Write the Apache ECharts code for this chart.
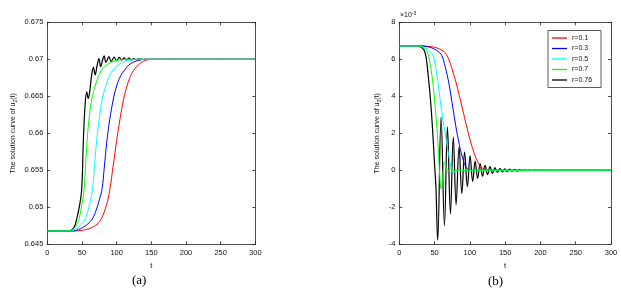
<!DOCTYPE html>
<html>
<head>
<meta charset="utf-8">
<script src="https://cdn.jsdelivr.net/npm/echarts@6/dist/echarts.min.js"></script>
<style>
html,body{margin:0;padding:0;background:#fff;}
#c{width:621px;height:295px;}
</style>
</head>
<body>
<div id="c"></div>
<script>
// ---------- data ----------
var seriesNames = ['r=0.1', 'r=0.3', 'r=0.5', 'r=0.7', 'r=0.76'];
var xTicks = [0, 50, 100, 150, 200, 250, 300];

// panel (a): u2(t)
var redT_a = [0, 40, 50, 60, 70, 77, 85, 90, 95, 100, 105, 110, 115, 120, 126, 135, 143, 155, 300];
var redV_a = [0.6468, 0.6468, 0.6469, 0.6471, 0.6476, 0.6483, 0.6502, 0.6523, 0.6556, 0.6590, 0.6620, 0.6646, 0.6664, 0.6677, 0.6687, 0.6695, 0.6699, 0.6700, 0.6700];
var blueT_a = [0, 35, 45, 55, 64, 70, 75, 79, 82, 86, 90, 95, 100, 106, 112, 120, 134, 145, 300];
var blueV_a = [0.6468, 0.6468, 0.6470, 0.6475, 0.6483, 0.6495, 0.6510, 0.6525, 0.6552, 0.6590, 0.6618, 0.6645, 0.6664, 0.6678, 0.6686, 0.6694, 0.6699, 0.6700, 0.6700];
var cyanT_a = [0, 30, 40, 48, 54, 60, 65, 68, 71, 75, 79, 85, 90, 95, 105, 119, 135, 300];
var cyanV_a = [0.6468, 0.6468, 0.6470, 0.6476, 0.6483, 0.6500, 0.6523, 0.6555, 0.6588, 0.6620, 0.6645, 0.6666, 0.6678, 0.6686, 0.6694, 0.6699, 0.6700, 0.6700];
var greenT_a = [0, 30, 38, 43, 46, 50, 53, 55, 57.5, 60, 64, 70, 78, 85, 95, 102, 115, 300];
var greenV_a = [0.6468, 0.6468, 0.6471, 0.6478, 0.6485, 0.6505, 0.6523, 0.6555, 0.6590, 0.6618, 0.6645, 0.6667, 0.6685, 0.6692, 0.6697, 0.6699, 0.6700, 0.6700];
var blackT_a = [0, 30, 38, 42, 46, 49.5, 52, 54.5, 57, 59, 61, 64, 66.5, 69, 71.5, 74.5, 77, 80, 82, 84.5, 89, 92, 96.5, 99.5, 104, 107, 111, 114, 118, 121, 125, 128, 132, 136, 300];
var blackV_a = [0.6468, 0.6468, 0.6472, 0.6483, 0.6500, 0.6523, 0.6590, 0.6638, 0.6656, 0.6647, 0.6655, 0.6679, 0.6689, 0.6679, 0.6690, 0.6701, 0.6690, 0.6700, 0.67045, 0.6696, 0.67035, 0.6697, 0.6703, 0.6698, 0.67025, 0.6699, 0.6702, 0.6699, 0.67015, 0.6699, 0.6701, 0.66995, 0.67005, 0.6700, 0.6700];

// panel (b): u3(t), in units of 1e-3
var redT_b = [0, 30, 40, 50, 60, 65, 70, 75, 80, 85, 90, 95, 100, 105, 110, 115, 120, 126, 300];
var redV_b = [6.72, 6.72, 6.70, 6.65, 6.50, 6.35, 6.0, 5.45, 4.8, 4.05, 3.25, 2.45, 1.7, 1.05, 0.55, 0.22, 0.06, 0, 0];
var blueT_b = [0, 30, 40, 50, 55, 60, 65, 70, 75, 80, 85, 90, 95, 100, 106, 300];
var blueV_b = [6.72, 6.72, 6.68, 6.55, 6.42, 6.22, 5.6, 4.75, 3.6, 2.4, 1.4, 0.62, 0.15, 0.02, 0, 0];
var cyanT_b = [0, 25, 35, 40, 45, 48, 50, 53, 55, 58, 62, 65, 68, 71, 74, 76, 79, 84, 300];
var cyanV_b = [6.72, 6.72, 6.65, 6.55, 6.35, 6.2, 5.9, 5.2, 4.7, 3.75, 2.7, 2.0, 1.3, 0.6, 0.05, -0.12, -0.08, 0, 0];
var greenT_b = [0, 25, 30, 35, 40, 43, 46, 49, 52, 54.5, 56.5, 58, 59.2, 60.5, 62, 63.8, 66, 68, 70, 72, 75, 300];
var greenV_b = [6.72, 6.72, 6.70, 6.6, 6.35, 5.9, 5.2, 4.2, 2.9, 1.6, 0.3, -0.7, -1.0, -0.8, -0.1, 0.45, 0.2, -0.1, -0.05, 0.08, 0, 0];
var blackT_b = [0, 25, 30, 35, 38, 41, 44, 47, 50, 52, 53.3, 54.4, 59.2, 64, 68.2, 72.5, 76.5, 80.5, 84.7, 88.6, 92.5, 96.5, 100.3, 104, 107.5, 111, 114.5, 118, 121.5, 125, 128.5, 132, 135.5, 139, 142.5, 146, 149.5, 153, 156.5, 160, 163.5, 167, 170.5, 174, 177.5, 181, 184.5, 188, 191.5, 195, 198.5, 202, 206, 300];
var blackV_b = [6.72, 6.72, 6.68, 6.5, 6.1, 5.1, 3.9, 2.3, 0.3, -1.0, -2.8, -3.78, 2.88, -3.0, 2.35, -2.35, 1.8, -1.85, 1.25, -1.25, 0.99, -0.88, 0.78, -0.6, 0.5, -0.44, 0.36, -0.32, 0.27, -0.23, 0.2, -0.17, 0.15, -0.12, 0.11, -0.09, 0.08, -0.07, 0.06, -0.05, 0.045, -0.04, 0.035, -0.03, 0.025, -0.02, 0.015, -0.012, 0.01, -0.008, 0.006, -0.004, 0, 0];

var colors = ['#ff0000', '#0000ff', '#00ffff', '#00ff00', '#000000'];

function pairs(t, v) { return t.map(function (x, i) { return [x, v[i]]; }); }

var dataA = [pairs(redT_a, redV_a), pairs(blueT_a, blueV_a), pairs(cyanT_a, cyanV_a), pairs(greenT_a, greenV_a), pairs(blackT_a, blackV_a)];
var dataB = [pairs(redT_b, redV_b), pairs(blueT_b, blueV_b), pairs(cyanT_b, cyanV_b), pairs(greenT_b, greenV_b), pairs(blackT_b, blackV_b)];

var FONT = '"Liberation Sans", Arial, Helvetica, sans-serif';
var axisLine = { show: true, onZero: false, lineStyle: { color: '#222', width: 0.8 } };
var tick = { show: true, inside: true, length: 3, lineStyle: { color: '#222', width: 0.8 } };
var lab = { color: '#111', fontSize: 7.5, fontFamily: FONT };

function xAx(grid, pos, showLabel) {
  return {
    gridIndex: grid, type: 'value', min: 0, max: 300, interval: 50, position: pos,
    axisLine: axisLine, axisTick: tick, splitLine: { show: false },
    axisLabel: Object.assign({ show: showLabel, margin: 5 }, lab),
    name: showLabel ? 't' : '', nameLocation: 'middle', nameGap: 17,
    nameTextStyle: { fontSize: 7.5, color: '#111', fontFamily: FONT }
  };
}
function yAx(grid, pos, showLabel, min, max, interval, fmt, name, gap) {
  return {
    gridIndex: grid, type: 'value', min: min, max: max, interval: interval, position: pos,
    axisLine: axisLine, axisTick: tick, splitLine: { show: false },
    axisLabel: Object.assign({ show: showLabel, margin: 4, formatter: fmt }, lab),
    name: showLabel ? name : '', nameLocation: 'middle', nameRotate: 90, nameGap: gap,
    nameTextStyle: {
      fontSize: 7, color: '#111', fontFamily: FONT,
      rich: { sub: { fontSize: 5, fontFamily: FONT, color: '#111', verticalAlign: 'bottom', lineHeight: 11 } }
    }
  };
}
function fmtA(v) { return String(parseFloat(v.toFixed(3))); }
function fmtB(v) { return String(Math.round(v)); }

var series = [];
for (var i = 0; i < 5; i++) {
  [[dataA, 0], [dataB, 2]].forEach(function (d) {
    series.push({
      name: seriesNames[i], type: 'line', xAxisIndex: d[1], yAxisIndex: d[1],
      data: d[0][i], showSymbol: false, symbol: 'none', smooth: 0.4,
      lineStyle: { color: colors[i], width: i === 4 ? 1.2 : 1 },
      itemStyle: { color: colors[i] },
      z: i === 4 ? 1 : (i === 3 ? 4 : 3)
    });
  });
}

var chart = echarts.init(document.getElementById('c'), null, { renderer: 'canvas' });
chart.setOption({
  animation: false,
  backgroundColor: '#fff',
  grid: [
    { left: 47.3, top: 22.3, width: 208, height: 222 },
    { left: 399.3, top: 22.3, width: 211.7, height: 222 }
  ],
  xAxis: [xAx(0, 'bottom', true), xAx(0, 'top', false), xAx(1, 'bottom', true), xAx(1, 'top', false)],
  yAxis: [
    yAx(0, 'left', true, 0.645, 0.675, 0.005, fmtA, 'The solution curve of u{sub|2}(t)', 29),
    yAx(0, 'right', false, 0.645, 0.675, 0.005, fmtA, '', 0),
    yAx(1, 'left', true, -4, 8, 2, fmtB, 'The solution curve of u{sub|3}(t)', 17),
    yAx(1, 'right', false, -4, 8, 2, fmtB, '', 0)
  ],
  legend: {
    data: seriesNames, orient: 'vertical', left: 548, top: 30.5,
    icon: 'rect', itemWidth: 15, itemHeight: 1.3, itemGap: 3.5, padding: [4, 9, 4, 4],
    borderColor: '#333', borderWidth: 0.8, backgroundColor: '#fff',
    textStyle: { fontSize: 7, lineHeight: 7, color: '#111', fontFamily: FONT },
    selectedMode: false
  },
  graphic: [
    { type: 'text', left: 400, top: 11, style: { text: '×10{sup|-3}', fontSize: 7, fill: '#111', fontFamily: FONT,
      rich: { sup: { fontSize: 5, fill: '#111', fontFamily: FONT, verticalAlign: 'top', lineHeight: 9 } } } },
    { type: 'text', left: 132, top: 274, style: { text: '(a)', fontSize: 13, fill: '#000', fontFamily: '"Liberation Serif", "Times New Roman", serif' } },
    { type: 'text', left: 488, top: 275, style: { text: '(b)', fontSize: 13, fill: '#000', fontFamily: '"Liberation Serif", "Times New Roman", serif' } }
  ],
  series: series
});
</script>
</body>
</html>
